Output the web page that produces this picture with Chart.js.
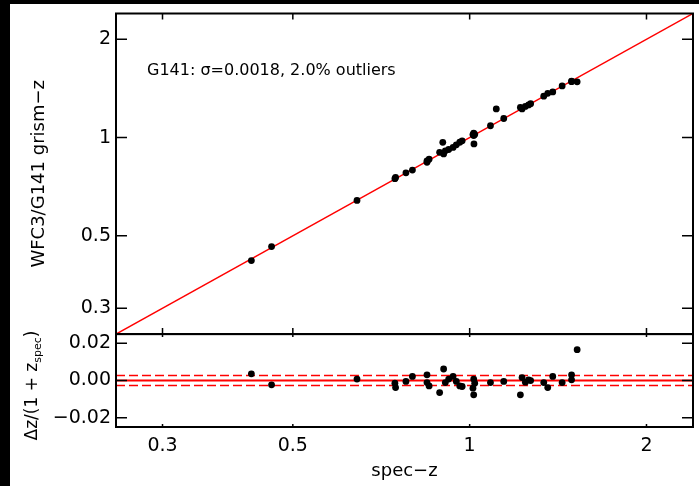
<!DOCTYPE html>
<html>
<head>
<meta charset="utf-8">
<script src="https://cdn.jsdelivr.net/npm/chart.js@4"></script>
<style>
  html, body { margin: 0; padding: 0; background: #fff; }
  body { width: 699px; height: 486px; position: relative; overflow: hidden; }
  #bandTop { position: absolute; left: 0; top: 0; width: 699px; height: 4px; background: #000; }
  #bandLeft { position: absolute; left: 0; top: 0; width: 10px; height: 486px; background: #000; }
  #chart { position: absolute; left: 10px; top: 4px; }
</style>
</head>
<body>
<div id="bandTop"></div>
<div id="bandLeft"></div>
<canvas id="chart" width="689" height="482"></canvas>
<script>
// spectroscopic redshifts and normalised residuals (zspec - zgrism)/(1 + zspec)
const specZ = [0.425, 0.460, 0.643, 0.746, 0.748, 0.779, 0.799, 0.846, 0.846, 0.853,
  0.889, 0.903, 0.909, 0.921, 0.937, 0.949, 0.962, 0.971, 1.016, 1.020,
  1.013, 1.016, 1.085, 1.143, 1.228, 1.220, 1.244, 1.260, 1.270, 1.337,
  1.358, 1.385, 1.437, 1.491, 1.491, 1.524];
const dzNorm = [0.0036, -0.0023, 0.0008, -0.0014, -0.0038, -0.0005, 0.0022, 0.0031, -0.0011, -0.0029,
  -0.0065, 0.0062, -0.0011, 0.0008, 0.0022, -0.0005, -0.0029, -0.0032, 0.0008, -0.0014,
  -0.0041, -0.0077, -0.0011, -0.0005, 0.0016, -0.0077, -0.0009, 0.0004, 0.0000, -0.0011,
  -0.0038, 0.0022, -0.0011, 0.0031, 0.0004, 0.0166];

// catastrophic outliers, off the residual panel
const outlierSpecZ = [0.900, 1.017, 1.110];
const outlierGrismZ = [0.967, 0.956, 1.224];

const zRange = [0.25, 2.4];
const zTicks = [0.3, 0.5, 1, 2];
const dzRange = [-0.025, 0.025];
const dzTicks = [-0.02, 0, 0.02];
const dzBand = 0.0027;
const statsText = 'G141: \u03c3=0.0018, 2.0% outliers';

const FONT = 'DejaVu Sans';
Chart.defaults.color = '#000';
Chart.defaults.font.family = FONT;

const grismZ = specZ.map((z, i) => z - dzNorm[i] * (1 + z));

const topPoints = specZ.map((z, i) => ({ x: z, y: grismZ[i] }))
  .concat(outlierSpecZ.map((z, i) => ({ x: z, y: outlierGrismZ[i] })));
const resPoints = specZ.map((z, i) => ({ x: z, y: dzNorm[i] }));

function hline(y) {
  return zRange.map(x => ({ x: x, y: y }));
}

function setTicks(values) {
  return function (scale) {
    scale.ticks = values.map(v => ({ value: v }));
  };
}

// keep the plot frame fixed: no room reserved for half tick labels
function fixWidth(w) {
  return function (s) {
    s.width = w;
    s.paddingTop = 0;
    s.paddingBottom = 0;
  };
}

function fmtDz(v) {
  if (v === 0) return '0.00';
  return (v < 0 ? '\u2212' : '') + Math.abs(v).toFixed(2);
}

// frames, inward tick marks and the text inside the panels
const panelDecor = {
  id: 'panelDecor',
  afterDatasetsDraw(chart) {
    const ctx = chart.ctx;
    const xs = chart.scales.x;
    const yz = chart.scales.yZ;
    const yr = chart.scales.yRes;
    const L = xs.left, R = xs.right;

    ctx.save();
    ctx.strokeStyle = '#000';
    ctx.lineWidth = 2;
    ctx.strokeRect(L, yz.top, R - L, yz.bottom - yz.top);
    ctx.strokeRect(L, yr.top, R - L, yr.bottom - yr.top);

    ctx.lineWidth = 1.5;
    ctx.beginPath();
    zTicks.forEach(v => {
      const py = yz.getPixelForValue(v);
      ctx.moveTo(L, py); ctx.lineTo(L + 11, py);
      ctx.moveTo(R, py); ctx.lineTo(R - 11, py);
      const px = xs.getPixelForValue(v);
      ctx.moveTo(px, yz.top); ctx.lineTo(px, yz.top + 6);
      ctx.moveTo(px, yz.bottom); ctx.lineTo(px, yz.bottom - 6);
      ctx.moveTo(px, yr.top); ctx.lineTo(px, yr.top + 3);
      ctx.moveTo(px, yr.bottom); ctx.lineTo(px, yr.bottom - 3);
    });
    dzTicks.forEach(v => {
      const py = yr.getPixelForValue(v);
      ctx.moveTo(L, py); ctx.lineTo(L + 11, py);
      ctx.moveTo(R, py); ctx.lineTo(R - 11, py);
    });
    ctx.stroke();

    ctx.fillStyle = '#000';
    ctx.font = '16px "' + FONT + '"';
    ctx.textAlign = 'left';
    ctx.textBaseline = 'middle';
    ctx.fillText(statsText, L + 31, yz.top + 57);

    // residual axis title with subscript
    const main1 = '\u0394z/(1 + z';
    const sub = 'spec';
    const main2 = ')';
    ctx.font = '17px "' + FONT + '"';
    const w1 = ctx.measureText(main1).width;
    const w3 = ctx.measureText(main2).width;
    ctx.font = '11px "' + FONT + '"';
    const w2 = ctx.measureText(sub).width;
    const total = w1 + w2 + w3;
    ctx.translate(27, (yr.top + yr.bottom) / 2 + 5);
    ctx.rotate(-Math.PI / 2);
    ctx.textBaseline = 'alphabetic';
    ctx.font = '17px "' + FONT + '"';
    ctx.fillText(main1, -total / 2, 0);
    ctx.font = '11px "' + FONT + '"';
    ctx.fillText(sub, -total / 2 + w1, 4);
    ctx.font = '17px "' + FONT + '"';
    ctx.fillText(main2, -total / 2 + w1 + w2, 0);
    ctx.restore();
  }
};

new Chart(document.getElementById('chart'), {
  type: 'scatter',
  data: {
    datasets: [
      { data: topPoints, yAxisID: 'yZ', backgroundColor: '#000', borderWidth: 0, pointRadius: 3.4 },
      { data: resPoints, yAxisID: 'yRes', backgroundColor: '#000', borderWidth: 0, pointRadius: 3.4 },
      { data: zRange.map(z => ({ x: z, y: z })), yAxisID: 'yZ', showLine: true,
        borderColor: '#ff0000', borderWidth: 1.5, pointRadius: 0 },
      { data: hline(0), yAxisID: 'yRes', showLine: true,
        borderColor: '#ff0000', borderWidth: 2, pointRadius: 0 },
      { data: hline(dzBand), yAxisID: 'yRes', showLine: true, borderDash: [9, 4],
        borderColor: '#ff0000', borderWidth: 1.5, pointRadius: 0 },
      { data: hline(-dzBand), yAxisID: 'yRes', showLine: true, borderDash: [9, 4],
        borderColor: '#ff0000', borderWidth: 1.5, pointRadius: 0 }
    ]
  },
  options: {
    responsive: false,
    animation: false,
    devicePixelRatio: 1,
    layout: { padding: { left: 0, top: 9.5, right: 6, bottom: 0 } },
    plugins: { legend: { display: false }, tooltip: { enabled: false } },
    scales: {
      x: {
        type: 'logarithmic',
        position: 'bottom',
        min: zRange[0], max: zRange[1],
        grid: { display: false, drawTicks: false },
        border: { display: false },
        afterBuildTicks: setTicks(zTicks),
        afterFit: s => { s.height = 59; s.paddingLeft = 0; s.paddingRight = 0; },
        ticks: { autoSkip: false, maxRotation: 0, padding: 8,
          font: { size: 19 }, callback: v => String(v) },
        title: { display: true, text: 'spec\u2212z', font: { size: 18 },
          padding: { top: 0, bottom: 4 } }
      },
      yRes: {
        type: 'linear',
        position: 'left',
        stack: 'panels',
        stackWeight: 1,
        min: dzRange[0], max: dzRange[1],
        grid: { display: false, drawTicks: false },
        border: { display: false },
        afterBuildTicks: setTicks(dzTicks),
        afterFit: fixWidth(106),
        ticks: { autoSkip: false, padding: 5, font: { size: 19 }, callback: fmtDz }
      },
      yZ: {
        type: 'logarithmic',
        position: 'left',
        stack: 'panels',
        stackWeight: 3.45,
        min: zRange[0], max: zRange[1],
        grid: { display: false, drawTicks: false },
        border: { display: false },
        afterBuildTicks: setTicks(zTicks),
        afterFit: fixWidth(106),
        ticks: { autoSkip: false, padding: 5, font: { size: 19 }, callback: v => String(v) },
        title: { display: true, text: 'WFC3/G141 grism\u2212z', font: { size: 18 },
          padding: { top: 19, bottom: 0 } }
      }
    }
  },
  plugins: [panelDecor]
});
</script>
</body>
</html>
